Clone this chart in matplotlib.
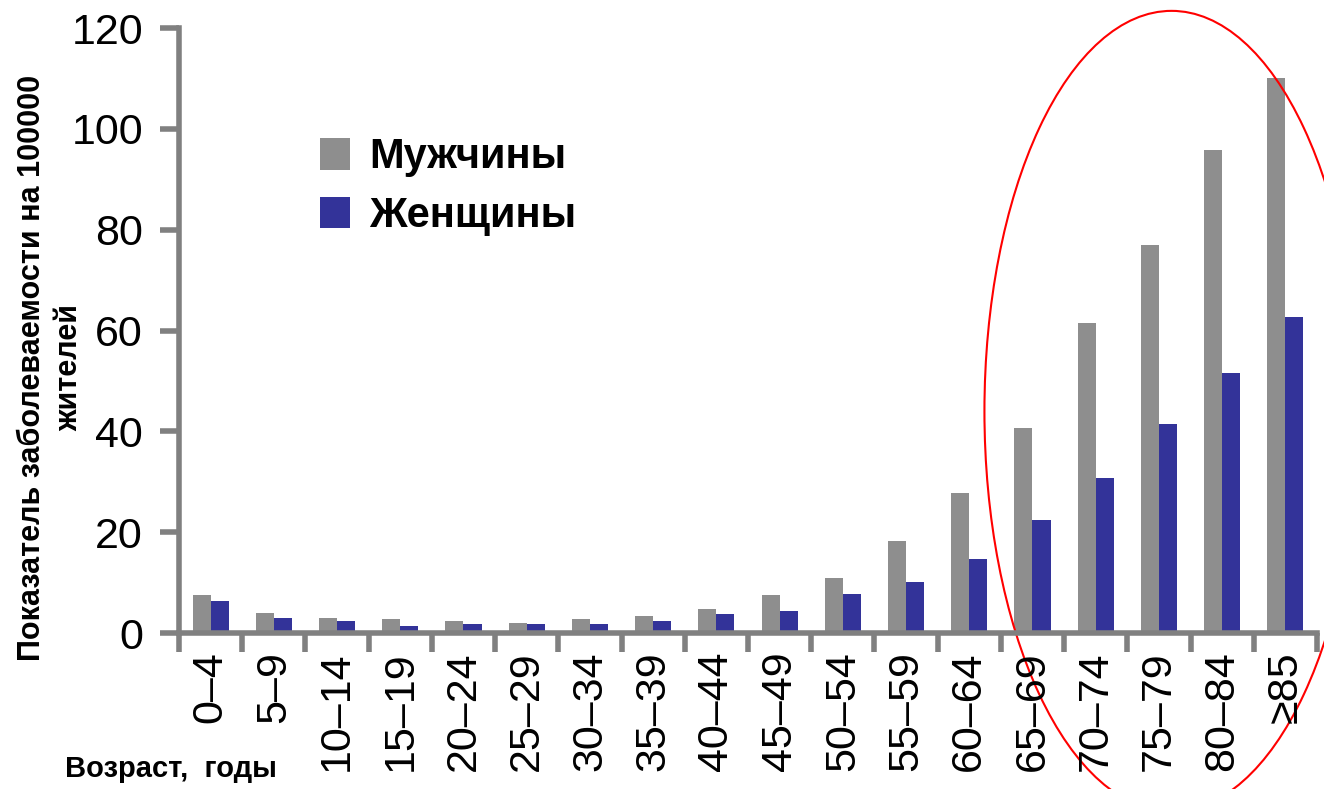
import matplotlib
matplotlib.use('Agg')
import numpy as np
import matplotlib.pyplot as plt
from matplotlib.patches import Ellipse

# age groups and incidence per 100000 inhabitants
age_groups = ['0–4', '5–9', '10–14', '15–19', '20–24', '25–29', '30–34', '35–39',
              '40–44', '45–49', '50–54', '55–59', '60–64', '65–69', '70–74',
              '75–79', '80–84', '≥85']
men = [7.5, 3.9, 2.9, 2.8, 2.3, 2.0, 2.8, 3.4, 4.8, 7.5, 11.0, 18.3, 27.7,
       40.6, 61.4, 77.0, 95.9, 110.0]
women = [6.4, 3.0, 2.4, 1.4, 1.8, 1.8, 1.8, 2.3, 3.8, 4.3, 7.7, 10.1, 14.7,
         22.4, 30.7, 41.4, 51.5, 62.6]
legend_labels = ['Мужчины', 'Женщины']
ylabel_lines = ['Показатель заболеваемости на 100000', 'жителей']

# highlighted region (older age groups), in data units
oval_center = (15.2, 44.0)
oval_size = (5.92, 158.8)

plt.rcParams['font.family'] = ['Liberation Sans', 'DejaVu Sans']

axis_color = '#808080'
men_color = '#8e8e8e'
women_color = '#333399'

fig = plt.figure(figsize=(13.24, 7.89), dpi=100)
ax = fig.add_axes([0.1352, 0.1977, 0.8595, 0.7668])

x = np.arange(len(age_groups))
bar_w = 0.285
ax.bar(x - bar_w / 2, men, width=bar_w, color=men_color, label=legend_labels[0])
ax.bar(x + bar_w / 2, women, width=bar_w, color=women_color, label=legend_labels[1])

ax.set_xlim(-0.5, len(age_groups) - 0.5)
ax.set_ylim(0, 120)
ax.set_yticks(np.arange(0, 121, 20))

# category labels in the middle, tick marks between the categories
ax.set_xticks(x)
ax.set_xticklabels(age_groups, rotation=90, fontsize=31)
ax.set_xticks(np.arange(-0.5, len(age_groups)), minor=True)
ax.tick_params(axis='x', which='major', length=0, pad=13)
ax.tick_params(axis='x', which='minor', length=14, width=4, color=axis_color, direction='out')
ax.tick_params(axis='y', length=14, width=4, color=axis_color, labelsize=31, pad=12)

for side in ['top', 'right']:
    ax.spines[side].set_visible(False)
for side in ['left', 'bottom']:
    ax.spines[side].set_color(axis_color)
    ax.spines[side].set_linewidth(4)

# y title, one text per line, both centred on the same height
for xpos, line in zip([0.0245, 0.0525], ylabel_lines):
    fig.text(xpos, 0.5336, line, rotation=90, ha='center', va='center',
             fontsize=22, fontweight='bold')
fig.text(0.049, 0.008, 'Возраст,  годы', ha='left', va='bottom', fontsize=21,
         fontweight='bold')

ax.legend(loc='upper left', bbox_to_anchor=(0.2417, 0.826), bbox_transform=fig.transFigure,
          frameon=False, prop={'size': 30, 'weight': 'bold'}, handlelength=0.72,
          handleheight=0.8, handletextpad=0.45, labelspacing=0.45, borderpad=0,
          borderaxespad=0)

oval = Ellipse(oval_center, oval_size[0], oval_size[1], fill=False, edgecolor='red',
               linewidth=1.5, clip_on=False)
ax.add_patch(oval)

fig.savefig('out.png', dpi=100)
